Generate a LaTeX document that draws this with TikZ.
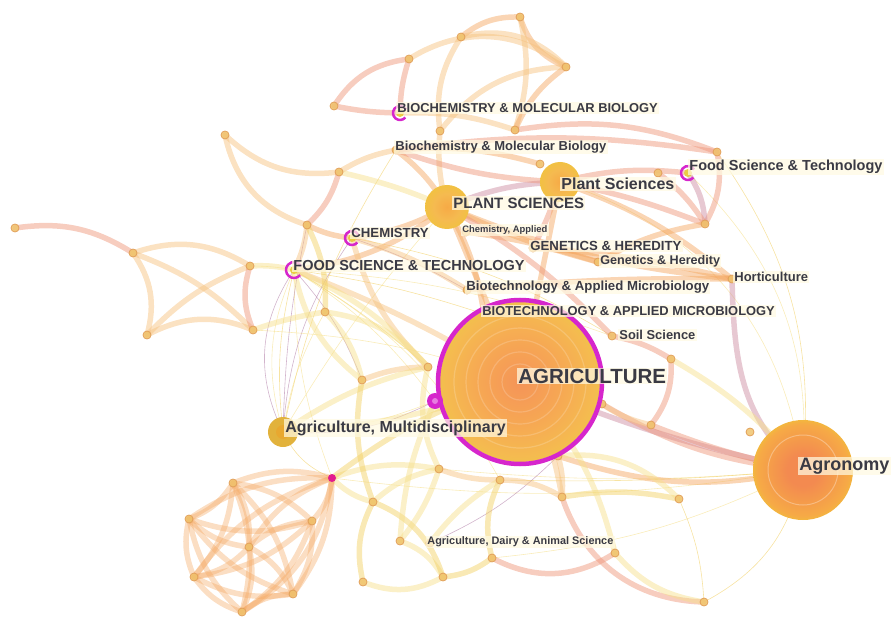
\documentclass[tikz,border=0pt]{standalone}
\usepackage{fontspec}
\setsansfont{Liberation Sans}
\usepackage{tikz}
\usetikzlibrary{calc}

\definecolor{cSal}{RGB}{238,150,122}
\definecolor{cOr}{RGB}{244,168,98}
\definecolor{cPch}{RGB}{246,194,128}
\definecolor{cYel}{RGB}{242,208,100}
\definecolor{cPal}{RGB}{246,224,140}
\definecolor{cMv}{RGB}{204,140,160}
\definecolor{thP}{RGB}{180,130,170}
\definecolor{ringM}{RGB}{214,38,204}
\definecolor{txtgray}{RGB}{58,58,68}
\definecolor{lblfill}{RGB}{255,250,226}
\definecolor{dotfill}{RGB}{240,196,110}
\definecolor{dotline}{RGB}{226,160,90}
\definecolor{hubcore}{RGB}{245,148,88}
\definecolor{hubin}{RGB}{246,166,84}
\definecolor{hubmid}{RGB}{245,186,80}
\definecolor{hubrim}{RGB}{234,204,68}
\definecolor{hubedge}{RGB}{226,204,64}
\definecolor{agcore}{RGB}{243,138,80}
\definecolor{agmid}{RGB}{246,170,70}
\definecolor{agrim}{RGB}{238,200,52}
\definecolor{goldhub}{RGB}{226,178,60}

% circle edge sits at 35.4bp of the 50bp shading
\pgfdeclareradialshading{hubshade}{\pgfpoint{0bp}{0bp}}{color(0bp)=(hubcore); color(12bp)=(hubin); color(23bp)=(hubmid); color(30bp)=(hubrim); color(35bp)=(hubedge); color(50bp)=(hubedge)}
\pgfdeclareradialshading{agroshade}{\pgfpoint{0bp}{0bp}}{color(0bp)=(agcore); color(8bp)=(agcore); color(23bp)=(agmid); color(28bp)=(agrim); color(50bp)=(agrim)}
\pgfdeclareradialshading{smallhub}{\pgfpoint{0bp}{0bp}}{color(0bp)=(agmid); color(15bp)=(hubmid); color(35bp)=(agrim); color(50bp)=(agrim)}

\tikzset{
	lnk/.style={line width=5.5pt, line cap=round, draw opacity=0.48},
	thn/.style={line width=0.6pt, draw opacity=0.6},
	dot/.style={fill=dotfill, draw=dotline, line width=0.8pt, fill opacity=0.85},
	lbl/.style={anchor=west, font=\sffamily\bfseries\fontsize{#1}{#1}\selectfont, text=txtgray, fill=lblfill, fill opacity=0.72, text opacity=1, inner sep=1.2pt}
}

\begin{document}
\begin{tikzpicture}[x=1pt, y=-1pt]
	\useasboundingbox (0,0) rectangle (893,617);

	% hubs and journals
	\coordinate (agri) at (520,382);
	\coordinate (agro) at (803,470);
	\coordinate (amul) at (283,432);
	\coordinate (plsA) at (447,207);
	\coordinate (plsB) at (560,182);
	\coordinate (bmbA) at (400,113);
	\coordinate (bmbB) at (396,150);
	\coordinate (fstA) at (294,270);
	\coordinate (fstB) at (688,173);
	\coordinate (chem) at (352,238);
	\coordinate (chap) at (466,232);
	\coordinate (genA) at (533,248);
	\coordinate (genB) at (598,262);
	\coordinate (hort) at (732,279);
	\coordinate (btmB) at (467,290);
	\coordinate (btmA) at (484,314);
	\coordinate (soil) at (612,336);
	\coordinate (dairy) at (430,543);
	\coordinate (magA) at (435,401);
	\coordinate (magB) at (332,478);

	% outer categories
	\coordinate (l1) at (15,228);
	\coordinate (l2) at (133,253);
	\coordinate (l3) at (250,266);
	\coordinate (l4) at (147,335);
	\coordinate (l5) at (253,330);
	\coordinate (u1) at (225,135);
	\coordinate (u2) at (339,172);
	\coordinate (u3) at (307,225);
	\coordinate (u4) at (334,106);
	\coordinate (u5) at (409,59);
	\coordinate (u6) at (440,131);
	\coordinate (t1) at (520,17);
	\coordinate (t2) at (461,37);
	\coordinate (t3) at (566,67);
	\coordinate (t4) at (515,130);
	\coordinate (t5) at (540,164);
	\coordinate (r1) at (717,152);
	\coordinate (r2) at (705,224);
	\coordinate (r3) at (658,173);
	\coordinate (b1) at (233,483);
	\coordinate (b2) at (189,519);
	\coordinate (b3) at (249,547);
	\coordinate (b4) at (312,521);
	\coordinate (b5) at (194,577);
	\coordinate (b6) at (293,594);
	\coordinate (b7) at (242,612);
	\coordinate (m0) at (325,312);
	\coordinate (m1) at (362,380);
	\coordinate (m2) at (428,367);
	\coordinate (m3) at (439,469);
	\coordinate (m4) at (373,502);
	\coordinate (m5) at (400,541);
	\coordinate (m6) at (363,582);
	\coordinate (m7) at (443,577);
	\coordinate (n1) at (671,359);
	\coordinate (n2) at (651,425);
	\coordinate (n3) at (750,432);
	\coordinate (n4) at (500,480);
	\coordinate (n5) at (562,497);
	\coordinate (n6) at (679,499);
	\coordinate (n7) at (615,553);
	\coordinate (n8) at (492,558);
	\coordinate (n9) at (704,602);
	\coordinate (n10) at (558,456);
	\coordinate (n11) at (602,404);

	% thin links
	\draw [thn, cPal] (fstA) to[bend right=20] (amul);
	\draw [thn, thP] (fstA) to[bend right=30] (amul);
	\draw [thn, cYel] (fstA) to[bend right=10] (amul);
	\draw [thn, cPal] (fstA) to[bend left=10] (magA);
	\draw [thn, cYel] (fstA) to[bend left=5] (m2);
	\draw [thn, cPal] (fstA) to[bend left=15] (n4);
	\draw [thn, thP] (fstA) to[bend left=10] (m1);
	\draw [thn, cPal] (fstA) to[bend right=10] (magB);
	\draw [thn, cYel] (fstA) to[bend left=5] (btmA);
	\draw [thn, cPal] (fstA) to[bend left=8] (soil);
	\draw [thn, thP] (amul) to[bend left=15] (chem);
	\draw [thn, cYel] (amul) to[bend left=10] (bmbB);
	\draw [thn, cPal] (amul) to[bend left=5] (plsA);
	\draw [thn, thP] (amul) to[bend left=5] (u3);
	\draw [thn, cPal] (amul) to[bend right=10] (magA);
	\draw [thn, thP] (amul) to[bend right=15] (magA);
	\draw [thn, cYel] (amul) to[bend right=20] (magB);
	\draw [thn, cPal] (amul) to[bend left=10] (m0);
	\draw [thn, cYel] (chem) to[bend left=10] (soil);
	\draw [thn, thP] (chem) to[bend left=5] (btmB);
	\draw [thn, cPal] (agro) to[bend right=25] (fstB);
	\draw [thn, cPal] (agro) to[bend right=32] (plsB);
	\draw [thn, cYel] (agro) to[bend right=20] (r1);
	\draw [thn, cPal] (agro) to[bend left=5] (m3);
	\draw [thn, cYel] (agro) to[bend left=3] (n4);
	\draw [thn, cPal] (agro) to[bend left=8] (magB);
	\draw [thn, cYel] (agro) to[bend left=25] (n9);
	\draw [thn, cPal] (agro) to[bend left=10] (n8);
	\draw [thn, thP] (n10) to[bend left=10] (dairy);
	\draw [thn, cYel] (n6) to[bend left=10] (n9);
	\draw [thn, cPal] (l3) to[bend left=5] (fstA);
	\draw [thn, cPal] (l5) to[bend left=8] (agri);

	% left cluster
	\draw [lnk, cSal] (l1) to[bend left=20] (l2);
	\draw [lnk, cPch] (l2) to[bend left=25] (l3);
	\draw [lnk, cPch] (l2) to[bend left=25] (l4);
	\draw [lnk, cPch] (l2) to[bend left=12] (l5);
	\draw [lnk, cPch] (l4) to[bend left=12] (l3);
	\draw [lnk, cPch] (l4) to[bend left=25] (l5);
	\draw [lnk, cSal] (l3) to[bend right=20] (l5);
	\draw [lnk, cPal] (l5) to[bend left=5] (m0);
	\draw [lnk, cPal] (l3) to[bend left=8] (fstA);

	% upper left
	\draw [lnk, cPch] (u1) to[bend right=30] (u3);
	\draw [lnk, cPch] (u1) to[bend right=25] (u2);
	\draw [lnk, cSal] (u2) to[bend left=15] (u3);
	\draw [lnk, cPch] (u3) to[bend left=10] (fstA);
	\draw [lnk, cOr] (u3) to[bend right=10] (chem);
	\draw [lnk, cSal] (u4) to[bend left=25] (u5);
	\draw [lnk, cSal] (u4) to[bend right=5] (bmbA);
	\draw [lnk, cSal] (u5) to[bend right=8] (bmbA);
	\draw [lnk, cPch] (u2) to[bend left=10] (bmbB);
	\draw [lnk, cPal] (u2) to[bend left=5] (plsA);

	% top cluster
	\draw [lnk, cOr] (t2) to[bend left=20] (t1);
	\draw [lnk, cOr] (t1) to[bend right=25] (t3);
	\draw [lnk, cPch] (t2) to[bend left=30] (t3);
	\draw [lnk, cPch] (u5) to[bend left=35] (t3);
	\draw [lnk, cPch] (t2) to[bend right=20] (u6);
	\draw [lnk, cPch] (t1) to[bend left=15] (t4);
	\draw [lnk, cOr] (t3) to[bend right=15] (t4);
	\draw [lnk, cPch] (u6) to[bend left=25] (t3);
	\draw [lnk, cPch] (bmbA) to[bend left=10] (t4);
	\draw [lnk, cOr] (bmbB) to[bend left=10] (t5);
	\draw [lnk, cSal] (t4) to[bend left=15] (r1);
	\draw [lnk, cSal] (bmbB) to[bend left=8] (r1);
	\draw [lnk, cPch] (u6) to[bend right=10] (plsA);

	% right side
	\draw [lnk, cSal] (r1) to[bend left=20] (r2);
	\draw [lnk, cMv] (fstB) to[bend left=15] (r2);
	\draw [lnk, cSal] (r3) to[bend left=10] (r2);
	\draw [lnk, cMv] (hort) .. controls (734,360) and (740,420) .. (agro);
	\draw [lnk, cMv] (agri) to[bend right=5] (agro);
	\draw [lnk, cSal] (n11) to[bend right=12] (agro);
	\draw [lnk, cOr] (n10) to[bend right=15] (agro);
	\draw [lnk, cSal] (n2) to[bend right=5] (agro);
	\draw [lnk, cSal] (soil) to[bend left=10] (n1);
	\draw [lnk, cSal] (n1) to[bend left=20] (n2);
	\draw [lnk, cPch] (n11) to[bend right=10] (n2);
	\draw [lnk, cPal] (n1) to[bend left=10] (agro);

	% center fan
	\draw [lnk, cMv] (plsA) to[bend left=10] (plsB);
	\draw [lnk, cSal] (plsB) to[bend left=10] (fstB);
	\draw [lnk, cOr] (plsA) to[bend right=5] (genB);
	\draw [lnk, cOr] (plsA) to[bend right=8] (hort);
	\draw [lnk, cOr] (plsB) to[bend left=10] (hort);
	\draw [lnk, cOr] (genA) to[bend left=5] (hort);
	\draw [lnk, cOr] (chap) to[bend left=5] (genB);
	\draw [lnk, cOr] (btmB) to[bend left=3] (hort);
	\draw [lnk, cSal] (plsB) to[bend left=5] (genA);
	\draw [lnk, cOr] (plsA) to[bend left=10] (btmA);
	\draw [lnk, cSal] (plsB) to[bend left=5] (r2);
	\draw [lnk, cOr] (chem) to[bend right=10] (plsA);
	\draw [lnk, cOr] (fstA) to[bend right=15] (plsA);
	\draw [lnk, cOr] (bmbB) to[bend left=10] (plsA);
	\draw [lnk, cSal] (bmbB) to[bend right=8] (plsB);
	\draw [lnk, cOr] (genB) to[bend left=10] (r2);
	\draw [lnk, cOr] (plsA) -- (agri);
	\draw [lnk, cOr] (plsB) -- (agri);
	\draw [lnk, cSal] (plsA) to[bend left=8] (soil);
	\draw [lnk, cPch] (chem) to[bend left=8] (btmB);
	\draw [lnk, cPch] (fstA) to[bend left=5] (agri);
	\draw [lnk, cPal] (fstA) to[bend right=20] (m1);
	\draw [lnk, cPch] (chem) to[bend right=15] (m2);
	\draw [lnk, cPal] (m0) to[bend left=15] (m1);
	\draw [lnk, cPch] (m1) to[bend left=10] (m2);
	\draw [lnk, cPal] (m0) to[bend left=20] (m2);
	\draw [lnk, cPal] (amul) to[bend left=10] (m2);
	\draw [lnk, cPal] (amul) to[bend right=8] (agri);
	\draw [lnk, cPal] (fstA) to[bend left=12] (m2);
	\draw [lnk, cYel] (u3) to[bend left=15] (m0);

	% lower middle
	\draw [lnk, cPal] (m3) to[bend right=15] (m4);
	\draw [lnk, cYel] (m4) to[bend right=20] (m6);
	\draw [lnk, cPal] (m5) to[bend left=20] (m7);
	\draw [lnk, cPal] (m6) to[bend right=25] (m7);
	\draw [lnk, cYel] (m4) to[bend left=25] (m7);
	\draw [lnk, cPal] (m3) to[bend left=10] (m5);
	\draw [lnk, cPch] (m3) to[bend right=10] (n4);
	\draw [lnk, cPch] (n4) to[bend left=15] (n5);
	\draw [lnk, cYel] (n4) to[bend right=20] (n8);
	\draw [lnk, cSal] (n8) to[bend right=30] (n7);
	\draw [lnk, cSal] (n5) to[bend right=35] (n9);
	\draw [lnk, cYel] (n5) to[bend left=10] (n6);
	\draw [lnk, cPal] (n7) to[bend right=20] (n9);
	\draw [lnk, cPch] (n10) to[bend left=10] (n5);
	\draw [lnk, cPal] (n10) to[bend left=25] (n6);
	\draw [lnk, cYel] (n8) to[bend left=15] (m7);
	\draw [lnk, cPal] (magB) to[bend left=15] (m3);
	\draw [lnk, cPal] (magB) to[bend right=15] (m4);
	\draw [lnk, cYel] (magB) to[bend left=10] (agri);
	\draw [lnk, cPal] (m2) to[bend right=20] (m3);
	\draw [lnk, cPch] (agri) to[bend left=10] (n5);
	\draw [lnk, cPal] (agri) to[bend left=15] (n7);
	\draw [lnk, cPal] (dairy) to[bend left=10] (n4);
	\draw [lnk, cYel] (m1) to[bend right=15] (m4);
	\draw [lnk, cPal] (magA) to[bend right=10] (m5);

	% lower left cluster
	\draw [lnk, cOr, draw opacity=0.38] (b1) to[bend left=18] (b2);
	\draw [lnk, cOr, draw opacity=0.38] (b1) to[bend left=18] (b3);
	\draw [lnk, cOr, draw opacity=0.38] (b1) to[bend left=18] (b4);
	\draw [lnk, cOr, draw opacity=0.38] (b1) to[bend left=18] (b5);
	\draw [lnk, cOr, draw opacity=0.38] (b1) to[bend left=18] (b6);
	\draw [lnk, cOr, draw opacity=0.38] (b1) to[bend left=18] (b7);
	\draw [lnk, cOr, draw opacity=0.38] (b1) to[bend left=18] (magB);
	\draw [lnk, cOr, draw opacity=0.38] (b2) to[bend right=18] (b3);
	\draw [lnk, cOr, draw opacity=0.38] (b2) to[bend right=18] (b4);
	\draw [lnk, cOr, draw opacity=0.38] (b2) to[bend right=18] (b5);
	\draw [lnk, cOr, draw opacity=0.38] (b2) to[bend right=18] (b6);
	\draw [lnk, cOr, draw opacity=0.38] (b2) to[bend right=18] (b7);
	\draw [lnk, cOr, draw opacity=0.38] (b2) to[bend left=18] (magB);
	\draw [lnk, cOr, draw opacity=0.38] (b3) to[bend left=18] (b4);
	\draw [lnk, cOr, draw opacity=0.38] (b3) to[bend left=18] (b5);
	\draw [lnk, cOr, draw opacity=0.38] (b3) to[bend left=18] (b6);
	\draw [lnk, cOr, draw opacity=0.38] (b3) to[bend left=18] (b7);
	\draw [lnk, cOr, draw opacity=0.38] (b3) to[bend left=18] (magB);
	\draw [lnk, cOr, draw opacity=0.38] (b4) to[bend left=18] (b5);
	\draw [lnk, cOr, draw opacity=0.38] (b4) to[bend left=18] (b6);
	\draw [lnk, cOr, draw opacity=0.38] (b4) to[bend left=18] (b7);
	\draw [lnk, cOr, draw opacity=0.38] (b4) to[bend right=18] (magB);
	\draw [lnk, cOr, draw opacity=0.38] (b5) to[bend right=18] (b6);
	\draw [lnk, cOr, draw opacity=0.38] (b5) to[bend right=18] (b7);
	\draw [lnk, cOr, draw opacity=0.38] (b6) to[bend right=18] (b7);
	\draw [lnk, cOr, draw opacity=0.38] (b6) to[bend right=18] (magB);
	\draw [lnk, cOr, draw opacity=0.38] (b7) to[bend right=25] (magB);
	\draw [lnk, cOr, draw opacity=0.38] (b5) to[bend left=18] (magB);

	% small category circles
	\foreach \p in {l1,l2,l3,l4,l5,u1,u2,u3,u4,u5,u6,t1,t2,t3,t4,t5,r1,r2,r3,b1,b2,b3,b4,b5,b6,b7,m0,m1,m2,m3,m4,m5,m6,m7,n1,n2,n3,n4,n5,n6,n7,n8,n9,n10,n11,bmbB,chap,genA,genB,hort,btmB,btmA,soil,dairy}
		\draw [dot] (\p) circle (4);

	% big hubs
	\shade [shading=hubshade] (agri) circle (80);
	\foreach \r in {18,30,42,54,66}
		\draw [white, opacity=0.18, line width=1.2pt] (agri) circle (\r);
	\draw [ringM, line width=4.5pt] (agri) circle (82);
	\shade [shading=agroshade] (agro) circle (50);
	\draw [white, opacity=0.3, line width=1pt] (agro) circle (35);
	\shade [shading=smallhub] (plsA) circle (22);
	\shade [shading=smallhub] (plsB) circle (20);
	\fill [goldhub] (amul) circle (15);
	\fill [goldhub!80!orange] (amul) circle (7);
	\fill [ringM] (magA) circle (8);
	\fill [ringM!60!white] (magA) circle (3);
	\fill [ringM!70!red] (magB) circle (4);

	% journals with high centrality
	\fill [hubrim] (bmbA) circle (4);
	\draw [ringM, line width=2.5pt] (bmbA) ++(40:7) arc (40:330:7);
	\fill [hubrim] (fstB) circle (4);
	\draw [ringM, line width=2.5pt] (fstB) ++(40:7) arc (40:330:7);
	\fill [hubrim] (chem) circle (4);
	\draw [ringM, line width=2.5pt] (chem) ++(40:7) arc (40:330:7);
	\fill [hubrim] (fstA) circle (4);
	\draw [ringM, line width=2.5pt] (fstA) ++(40:8) arc (40:330:8);

	% labels
	\node [lbl=20.5] (agriL) at (517,376) {AGRICULTURE};
	\node [lbl=18] (agroL) at (798,466) {Agronomy};
	\node [lbl=16] (amulL) at (284,428) {Agriculture, Multidisciplinary};
	\node [lbl=15] (plsAL) at (452,203) {PLANT SCIENCES};
	\node [lbl=16] (plsBL) at (560,184) {Plant Sciences};
	\node [lbl=12.9] (bmbAL) at (396,108) {BIOCHEMISTRY \& MOLECULAR BIOLOGY};
	\node [lbl=13] (bmbBL) at (394,147) {Biochemistry \& Molecular Biology};
	\node [lbl=14.5] (fstBL) at (688,167) {Food Science \& Technology};
	\node [lbl=13.2] (chemL) at (350,233) {CHEMISTRY};
	\node [lbl=14.5] (fstAL) at (292,266) {FOOD SCIENCE \& TECHNOLOGY};
	\node [lbl=9.4] (chapL) at (461,230) {Chemistry, Applied};
	\node [lbl=13.2] (genAL) at (529,246) {GENETICS \& HEREDITY};
	\node [lbl=12.6] (genBL) at (599,261) {Genetics \& Heredity};
	\node [lbl=13] (hortL) at (733,277) {Horticulture};
	\node [lbl=13.2] (btmBL) at (465,287) {Biotechnology \& Applied Microbiology};
	\node [lbl=12.9] (btmAL) at (481,311) {BIOTECHNOLOGY \& APPLIED MICROBIOLOGY};
	\node [lbl=12.9] (soilL) at (618,335) {Soil Science};
	\node [lbl=10.9] (dairyL) at (426,542) {Agriculture, Dairy \& Animal Science};

\end{tikzpicture}
\end{document}
